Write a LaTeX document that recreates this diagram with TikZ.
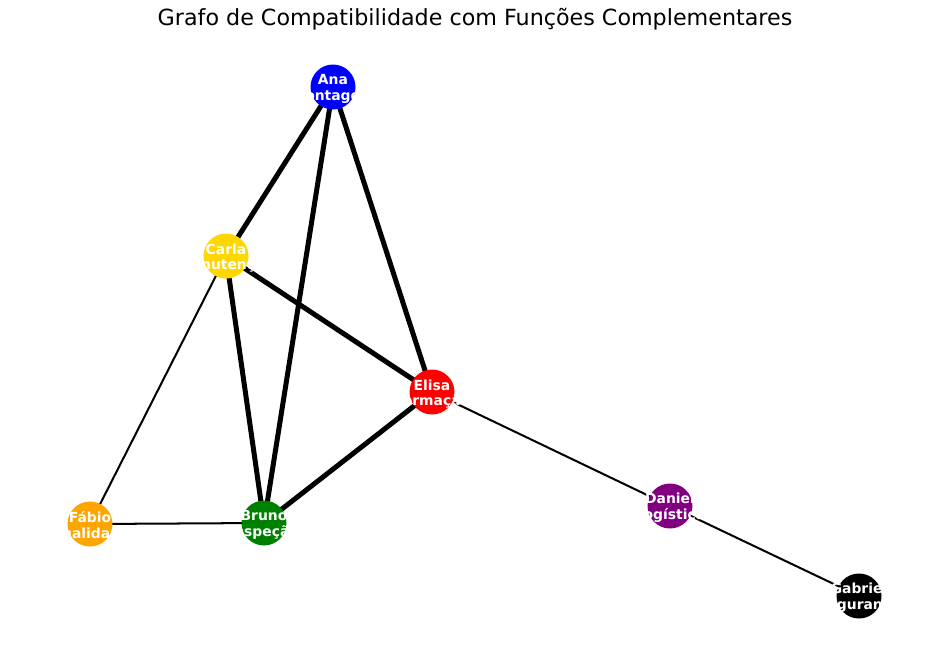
\documentclass[tikz,border=0pt]{standalone}
\usepackage{fontspec}
\setmainfont{DejaVu Sans}
\usetikzlibrary{backgrounds}

\begin{document}
\begin{tikzpicture}[x=0.72pt,y=-0.72pt,
  pessoa/.style={circle,minimum size=32.4pt,inner sep=0pt},
  rotulo/.style={text=white,font=\fontsize{10}{11.5}\selectfont\bfseries,align=center,yshift=-1.5pt},
  forte/.style={line width=3.6pt},
  fraca/.style={line width=1.45pt}]
\useasboundingbox (0,0) rectangle (950,660);
\node[font=\fontsize{16}{19}\selectfont] (titulo) at (475,19) {Grafo de Compatibilidade com Funções Complementares};
\node[pessoa,fill=blue,label={[rotulo]center:Ana\\Montagem}] (v1) at (333,87) {};
\node[pessoa,fill={rgb,255:red,255;green,215;blue,0},label={[rotulo]center:Carla\\Manutenção}] (v2) at (226,256) {};
\node[pessoa,fill=red,label={[rotulo]center:Elisa\\Formação}] (v3) at (432,392) {};
\node[pessoa,fill={rgb,255:red,0;green,128;blue,0},label={[rotulo]center:Bruno\\Inspeção}] (v4) at (264,523) {};
\node[pessoa,fill={rgb,255:red,255;green,165;blue,0},label={[rotulo]center:Fábio\\Qualidade}] (v5) at (90,524) {};
\node[pessoa,fill={rgb,255:red,128;green,0;blue,128},label={[rotulo]center:Daniel\\Logística}] (v6) at (670,506) {};
\node[pessoa,fill=black,label={[rotulo]center:Gabriel\\Segurança}] (v7) at (859,596) {};
\begin{scope}[on background layer]
\draw[forte] (v1.center) -- (v2.center);
\draw[forte] (v1.center) -- (v4.center);
\draw[forte] (v1.center) -- (v3.center);
\draw[forte] (v2.center) -- (v3.center);
\draw[forte] (v2.center) -- (v4.center);
\draw[forte] (v4.center) -- (v3.center);
\draw[fraca] (v2.center) -- (v5.center);
\draw[fraca] (v5.center) -- (v4.center);
\draw[fraca] (v3.center) -- (v6.center);
\draw[fraca] (v6.center) -- (v7.center);
\end{scope}
\end{tikzpicture}
\end{document}
